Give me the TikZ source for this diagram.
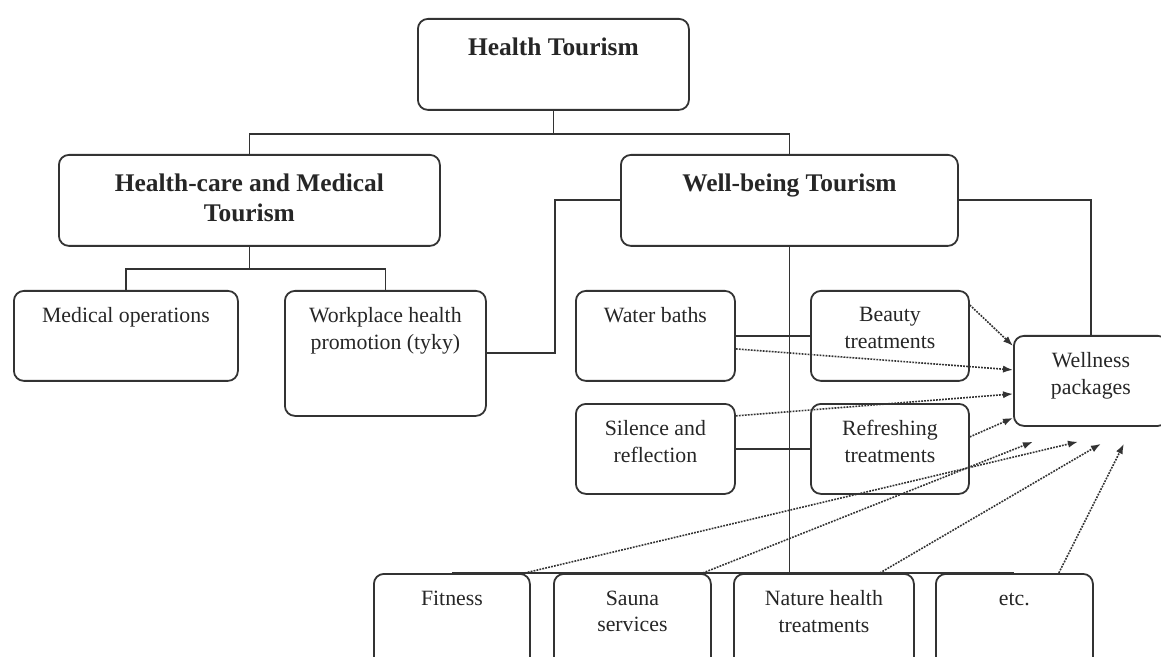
\documentclass[tikz,border=0pt]{standalone}
\usepackage{fontspec}
\setmainfont{Liberation Serif}
\usetikzlibrary{arrows.meta}
\colorlet{box edge}{black!80}
\colorlet{box text}{black!85}
\tikzset{box/.style={draw=box edge, line width=0.9pt, rounded corners=5pt,
        anchor=north west, inner sep=0pt},
    boxsize/.style 2 args={minimum width=#1*0.5pt, minimum height=#2*0.5pt},
    label text/.style={anchor=north, inner sep=0pt, align=center, text=box text},
    plain/.style={label text, yshift=-8.6pt,
        font=\fontsize{10.9}{13.25}\selectfont},
    head/.style={label text, yshift=-9.75pt,
        font=\bfseries\fontsize{12.7}{15}\selectfont},
    link/.style={draw=box edge, line width=0.9pt},
    feed/.style={draw=box edge, line width=0.8pt, dash pattern=on 0.9pt off 0.6pt,
        -{Latex[length=5pt,width=3.6pt]}}}

\begin{document}
\begin{tikzpicture}[x=0.5pt, y=-0.5pt]
    \useasboundingbox (0,0) rectangle (1161,657);
    \clip (0,0) rectangle (1161,657);
    % boxes
    \node[box, boxsize={271}{91}]  (ht)      at (417,18)  {};
    \node[box, boxsize={381}{91}]  (hcmt)    at (58,154)  {};
    \node[box, boxsize={337}{91}]  (wbt)     at (620,154) {};
    \node[box, boxsize={224}{90}]  (medop)   at (13,290)  {};
    \node[box, boxsize={201}{125}] (work)    at (284,290) {};
    \node[box, boxsize={159}{90}]  (water)   at (575,290) {};
    \node[box, boxsize={158}{90}]  (beauty)  at (810,290) {};
    \node[box, boxsize={159}{90}]  (silence) at (575,403) {};
    \node[box, boxsize={158}{90}]  (refresh) at (810,403) {};
    \node[box, boxsize={154}{90}]  (well)    at (1013,335) {};
    \node[box, boxsize={156}{110}] (fit)     at (373,573) {};
    \node[box, boxsize={157}{110}] (sauna)   at (553,573) {};
    \node[box, boxsize={180}{110}] (nature)  at (733,573) {};
    \node[box, boxsize={157}{110}] (etc)     at (935,573) {};
    % texts
    \node[head]  (htT)      at (ht.north)      {Health Tourism};
    \node[head]  (hcmtT)    at (hcmt.north)    {Health-care and Medical\\Tourism};
    \node[head]  (wbtT)     at (wbt.north)     {Well-being Tourism};
    \node[plain] (medopT)   at (medop.north)   {Medical operations};
    \node[plain] (workT)    at (work.north)    {Workplace health\\promotion (tyky)};
    \node[plain] (waterT)   at (water.north)   {Water baths};
    \node[plain] (beautyT)  at (beauty.north)  {Beauty\\treatments};
    \node[plain] (silenceT) at (silence.north) {Silence and\\reflection};
    \node[plain] (refreshT) at (refresh.north) {Refreshing\\treatments};
    \node[plain] (wellT)    at (well.north)    {Wellness\\packages};
    \node[plain] (fitT)     at (fit.north)     {Fitness};
    \node[plain] (saunaT)   at (sauna.north)   {Sauna\\services};
    \node[plain] (natureT)  at (nature.north)  {Nature health\\treatments};
    \node[plain, yshift=-1.5pt] (etcT) at (etc.north) {etc.};
    % tree lines
    \coordinate (split)  at ([yshift=-11.5pt]ht.south);
    \coordinate (split2) at ([yshift=-11pt]hcmt.south);
    \draw[link] (ht.south) -- (split);
    \draw[link] (hcmt.north) |- (split) -| (wbt.north);
    \draw[link] (hcmt.south) -- (split2);
    \draw[link] (medop.north) |- (split2) -| (work.north);
    \draw[link] (work.east) -- ++(68,0) |- (wbt.west);
    \draw[link] (wbt.east) -| (well.north);
    \draw[link] (wbt.south) -- (wbt.south |- fit.north);
    \draw[link] (fit.north) -- (etc.north);
    \draw[link] (water.east) -- (beauty.west);
    \draw[link] (silence.east) -- (refresh.west);
    % dotted arrows into the packages
    \draw[feed] ([yshift=-7.5pt]beauty.north east) -- ([yshift=17.5pt]well.west);
    \draw[feed] ([yshift=-6.5pt]water.east) -- ([yshift=5.5pt]well.west);
    \draw[feed] ([yshift=16.5pt]silence.east) -- ([yshift=-6.5pt]well.west);
    \draw[feed] ([yshift=6pt]refresh.east) -- ([yshift=-18.5pt]well.west);
    \draw[feed] ([xshift=-3pt]fit.north east) -- ([xshift=-6.5pt,yshift=-7.5pt]well.south);
    \draw[feed] ([xshift=-4.5pt]sauna.north east) -- ([xshift=-29pt,yshift=-7.5pt]well.south);
    \draw[feed] ([xshift=-17.5pt]nature.north east) -- ([xshift=5pt,yshift=-8.5pt]well.south);
    \draw[feed] ([xshift=-17.5pt]etc.north east) -- ([xshift=16.5pt,yshift=-8.5pt]well.south);
\end{tikzpicture}
\end{document}
